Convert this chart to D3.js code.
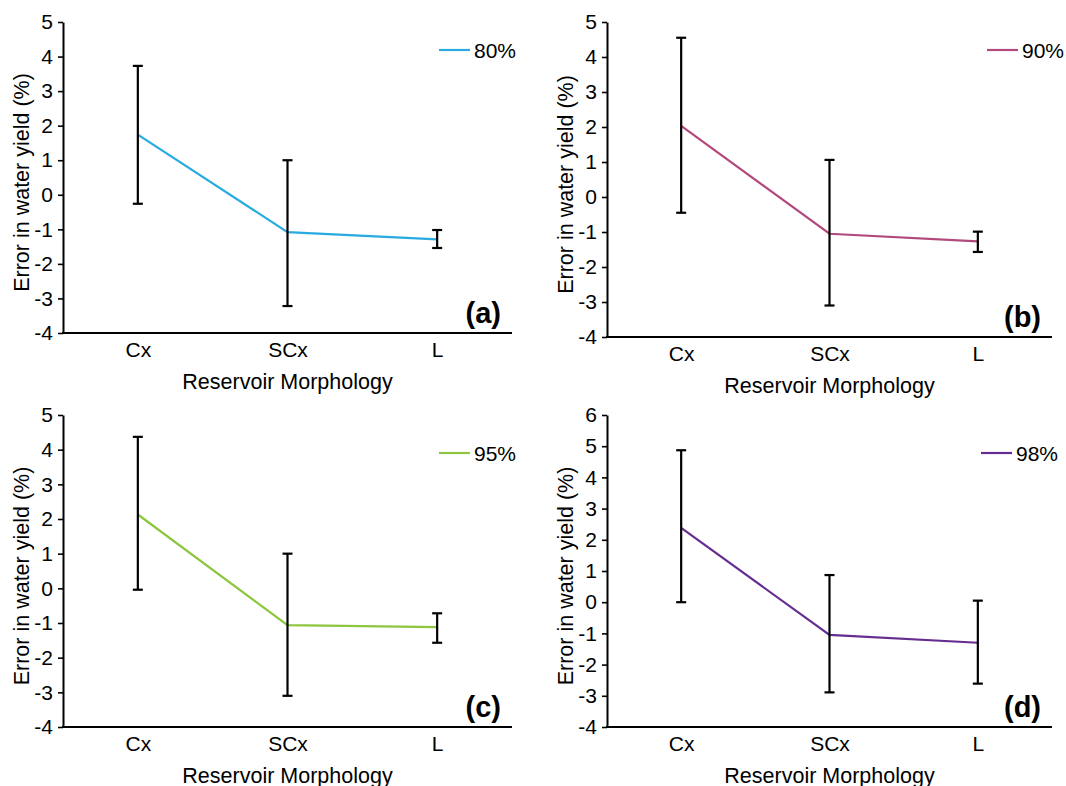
<!DOCTYPE html>
<html>
<head>
<meta charset="utf-8">
<script src="https://cdn.jsdelivr.net/npm/d3@7"></script>
<style>
  body { margin: 0; background: #fff; }
  svg { display: block; font-family: "Liberation Sans", Arial, sans-serif; }
</style>
</head>
<body>
<svg id="chart" width="1066" height="786"></svg>
<script>
// data
const categories = ["Cx", "SCx", "L"];

const mean80 = [1.74, -1.08, -1.29];
const upper80 = [3.73, 1.0, -1.02];
const lower80 = [-0.26, -3.22, -1.54];

const mean90 = [2.03, -1.05, -1.27];
const upper90 = [4.55, 1.06, -0.99];
const lower90 = [-0.45, -3.1, -1.57];

const mean95 = [2.13, -1.06, -1.12];
const upper95 = [4.37, 1.0, -0.72];
const lower95 = [-0.04, -3.1, -1.57];

const mean98 = [2.38, -1.05, -1.3];
const upper98 = [4.87, 0.87, 0.05];
const lower98 = [0.0, -2.89, -2.61];

const ticks5 = [-4, -3, -2, -1, 0, 1, 2, 3, 4, 5];
const ticks6 = [-4, -3, -2, -1, 0, 1, 2, 3, 4, 5, 6];

const xTitle = "Reservoir Morphology";
const yTitle = "Error in water yield (%)";

// panel layout
const panels = [
  { tag: "(a)", name: "80%", color: "#29abe2", mean: mean80, up: upper80, lo: lower80, ticks: ticks5,
    x0: 63, x1: 512, yTop: 22, yBot: 333, legX: 439, legY: 50 },
  { tag: "(b)", name: "90%", color: "#b2497c", mean: mean90, up: upper90, lo: lower90, ticks: ticks5,
    x0: 607, x1: 1052, yTop: 22, yBot: 337, legX: 987, legY: 50 },
  { tag: "(c)", name: "95%", color: "#8dc63f", mean: mean95, up: upper95, lo: lower95, ticks: ticks5,
    x0: 63, x1: 512, yTop: 415, yBot: 727, legX: 439, legY: 453 },
  { tag: "(d)", name: "98%", color: "#662d91", mean: mean98, up: upper98, lo: lower98, ticks: ticks6,
    x0: 607, x1: 1052, yTop: 415, yBot: 727, legX: 981, legY: 453 }
];

const svg = d3.select("#chart");
const FONT = "Liberation Sans, Arial, sans-serif";

panels.forEach(p => {
  const g = svg.append("g");

  const x = d3.scalePoint().domain(categories).range([p.x0, p.x1]).padding(0.5);
  const y = d3.scaleLinear().domain(d3.extent(p.ticks)).range([p.yBot, p.yTop]);

  // y axis
  const ya = g.append("g")
    .attr("transform", `translate(${p.x0},0)`)
    .call(d3.axisLeft(y).tickValues(p.ticks).tickFormat(d => String(d)).tickSize(5).tickSizeOuter(0).tickPadding(5));
  ya.select(".domain").attr("stroke", "#000").attr("stroke-width", 2);
  ya.selectAll(".tick line").attr("stroke", "#000").attr("stroke-width", 1.6);
  ya.selectAll("text").attr("font-size", 21).attr("fill", "#000").attr("font-family", FONT);

  // x axis
  const xa = g.append("g")
    .attr("transform", `translate(0,${p.yBot})`)
    .call(d3.axisBottom(x).tickSize(0).tickSizeOuter(0).tickPadding(9));
  xa.select(".domain").attr("stroke", "#000").attr("stroke-width", 2)
    .attr("d", `M${p.x0 - 1},0H${p.x1}`);
  xa.selectAll("text").attr("font-size", 21).attr("fill", "#000").attr("font-family", FONT);

  // axis titles
  g.append("text")
    .attr("x", (p.x0 + p.x1) / 2)
    .attr("y", p.yBot + 56)
    .attr("text-anchor", "middle")
    .attr("font-size", 21.5)
    .text(xTitle);

  g.append("text")
    .attr("transform", `translate(${p.x0 - 34},${(p.yTop + p.yBot) / 2 + 5}) rotate(-90)`)
    .attr("text-anchor", "middle")
    .attr("font-size", 21.5)
    .text(yTitle);

  // series line
  const line = d3.line().x((d, i) => x(categories[i])).y(d => y(d));
  g.append("path")
    .datum(p.mean)
    .attr("d", line)
    .attr("fill", "none")
    .attr("stroke", p.color)
    .attr("stroke-width", 2.2);

  // error bars
  const eb = g.append("g").attr("stroke", "#000").attr("stroke-width", 2.2);
  categories.forEach((c, i) => {
    const cx = x(c);
    eb.append("line").attr("x1", cx).attr("x2", cx).attr("y1", y(p.up[i])).attr("y2", y(p.lo[i]));
    eb.append("line").attr("x1", cx - 5).attr("x2", cx + 5).attr("y1", y(p.up[i])).attr("y2", y(p.up[i]));
    eb.append("line").attr("x1", cx - 5).attr("x2", cx + 5).attr("y1", y(p.lo[i])).attr("y2", y(p.lo[i]));
  });

  // legend
  g.append("line")
    .attr("x1", p.legX).attr("x2", p.legX + 31)
    .attr("y1", p.legY).attr("y2", p.legY)
    .attr("stroke", p.color).attr("stroke-width", 2.2);
  g.append("text")
    .attr("x", p.legX + 35)
    .attr("y", p.legY + 7.5)
    .attr("font-size", 21)
    .text(p.name);

  // panel tag
  g.append("text")
    .attr("x", p.x1 - 11)
    .attr("y", p.yBot - 10)
    .attr("text-anchor", "end")
    .attr("font-size", 29)
    .attr("font-weight", "bold")
    .text(p.tag);
});
</script>
</body>
</html>
